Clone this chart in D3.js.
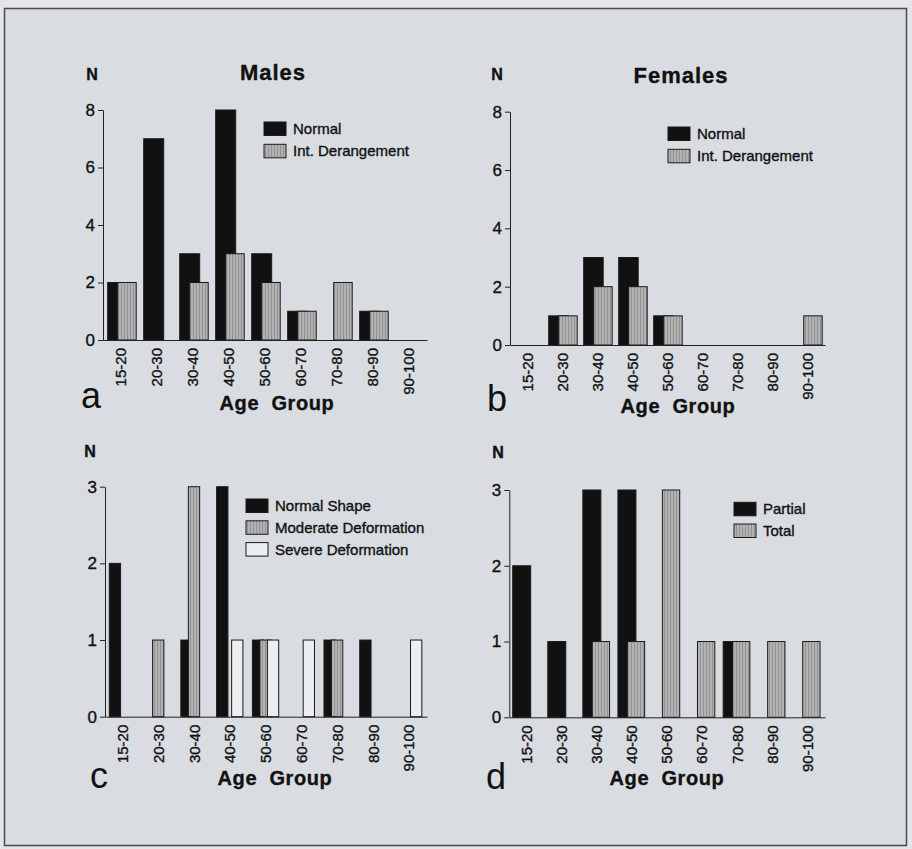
<!DOCTYPE html>
<html>
<head>
<meta charset="utf-8">
<script src="https://cdn.jsdelivr.net/npm/d3@7"></script>
<style>
  body { margin: 0; background: #e3e5e7; }
  svg { display: block; font-family: "Liberation Sans", Arial, sans-serif; }
  svg text { stroke: #111; stroke-width: 0.35px; }
</style>
</head>
<body>
<svg id="chart" width="912" height="849"></svg>
<script>
// age groups on every x axis
var ageGroups = ['15-20', '20-30', '30-40', '40-50', '50-60', '60-70', '70-80', '80-90', '90-100'];

// panel a - males
var malesNormal     = [2, 7, 3, 8, 3, 1, 0, 1, 0];
var malesDerangement = [2, 0, 2, 3, 2, 1, 2, 1, 0];
// panel b - females
var femalesNormal     = [0, 1, 3, 3, 1, 0, 0, 0, 0];
var femalesDerangement = [0, 1, 2, 2, 1, 0, 0, 0, 1];
// panel c - shape
var shapeNormal   = [2, 0, 1, 3, 1, 0, 1, 1, 0];
var shapeModerate = [0, 1, 3, 0, 1, 0, 1, 0, 0];
var shapeSevere   = [0, 0, 0, 1, 1, 1, 0, 0, 1];
// panel d - partial / total
var partialCounts = [2, 1, 3, 3, 0, 0, 1, 0, 0];
var totalCounts   = [0, 0, 1, 1, 3, 1, 1, 1, 1];

var ticksTop = [0, 2, 4, 6, 8];
var ticksBottom = [0, 1, 2, 3];

var svg = d3.select('#chart');
var defs = svg.append('defs');
var pat = defs.append('pattern')
  .attr('id', 'stripe').attr('patternUnits', 'userSpaceOnUse')
  .attr('width', 3).attr('height', 4);
pat.append('rect').attr('width', 3).attr('height', 4).attr('fill', '#b2b2b2');
pat.append('rect').attr('x', 1).attr('width', 1).attr('height', 4).attr('fill', '#939393');

// page frame
svg.append('rect')
  .attr('x', 4.5).attr('y', 8.5).attr('width', 902).attr('height', 837)
  .attr('fill', '#d9dde1').attr('stroke', '#4a4a4a').attr('stroke-width', 1.5);

var fills = { black: '#111', gray: 'url(#stripe)', white: '#eceef0' };

var panels = [
  { letter: 'a', title: 'Males', ax: 103, ax1: 427, y0: 340, yTop: 110, yMax: 8, ticks: ticksTop,
    lead: 4.7, offset: 10, widths: [20, 18.5], titlePos: [273, 80], nPos: [92, 80],
    letterPos: [81, 408], agePos: [277, 410], leg: [264, 122, 22.3],
    series: [
      { name: 'Normal', values: malesNormal, fill: 'black' },
      { name: 'Int. Derangement', values: malesDerangement, fill: 'gray' }
    ] },
  { letter: 'b', title: 'Females', ax: 510, ax1: 825, y0: 345, yTop: 111.7, yMax: 8, ticks: ticksTop,
    lead: 3.7, offset: 10, widths: [19.5, 18.5], titlePos: [681, 83], nPos: [497, 80],
    letterPos: [487, 411], agePos: [678, 413], leg: [668, 127, 22.3],
    series: [
      { name: 'Normal', values: femalesNormal, fill: 'black' },
      { name: 'Int. Derangement', values: femalesDerangement, fill: 'gray' }
    ] },
  { letter: 'c', title: null, ax: 105, ax1: 427, y0: 716.7, yTop: 486.7, yMax: 3, ticks: ticksBottom,
    lead: 4.3, offset: 7.5, widths: [11.3, 11.3, 11.3], nPos: [90, 457],
    letterPos: [90, 788], agePos: [275, 785], leg: [246, 499, 21.8],
    series: [
      { name: 'Normal Shape', values: shapeNormal, fill: 'black' },
      { name: 'Moderate Deformation', values: shapeModerate, fill: 'gray' },
      { name: 'Severe Deformation', values: shapeSevere, fill: 'white' }
    ] },
  { letter: 'd', title: null, ax: 509.3, ax1: 825, y0: 717.3, yTop: 490, yMax: 3, ticks: ticksBottom,
    lead: 3.4, offset: 9.4, widths: [18, 17.3], nPos: [498, 458],
    letterPos: [486, 789], agePos: [667, 785], leg: [734, 502.3, 21.7],
    series: [
      { name: 'Partial', values: partialCounts, fill: 'black' },
      { name: 'Total', values: totalCounts, fill: 'gray' }
    ] }
];

panels.forEach(function(p) {
  var g = svg.append('g');
  var x = d3.scaleBand().domain(ageGroups).range([p.ax, p.ax1]);
  var y = d3.scaleLinear().domain([0, p.yMax]).range([p.y0, p.yTop]);

  // bars, later series drawn on top
  p.series.forEach(function(s, i) {
    g.selectAll(null)
      .data(s.values.map(function(v, k) { return { v: v, c: ageGroups[k] }; }).filter(function(d) { return d.v > 0; }))
      .enter().append('rect')
      .attr('x', function(d) { return x(d.c) + p.lead + i * p.offset; })
      .attr('y', function(d) { return y(d.v); })
      .attr('width', p.widths[i])
      .attr('height', function(d) { return y(0) - y(d.v); })
      .attr('fill', fills[s.fill])
      .attr('stroke', '#1a1a1a').attr('stroke-width', 1);
  });

  // y axis
  var yAxis = g.append('g')
    .attr('transform', 'translate(' + p.ax + ',0)')
    .call(d3.axisLeft(y).tickValues(p.ticks).tickSize(5).tickSizeOuter(0).tickPadding(3).tickFormat(d3.format('d')));
  yAxis.attr('font-size', null).attr('font-family', null);
  yAxis.select('.domain').attr('stroke', '#222');
  yAxis.selectAll('.tick line').attr('stroke', '#222');
  yAxis.selectAll('text').style('font-size', '17px').attr('fill', '#111');

  // x axis line and rotated labels
  var xAxis = g.append('g')
    .attr('transform', 'translate(0,' + p.y0 + ')')
    .call(d3.axisBottom(x).tickSize(0).tickPadding(0));
  xAxis.attr('font-size', null).attr('font-family', null);
  xAxis.select('.domain').attr('stroke', '#222');
  xAxis.selectAll('text')
    .style('font-size', '15px').attr('fill', '#111')
    .attr('text-anchor', 'end')
    .attr('dy', '0.35em')
    .attr('transform', 'translate(0,8) rotate(-90)');

  // titles and labels
  if (p.title) {
    g.append('text').attr('x', p.titlePos[0]).attr('y', p.titlePos[1])
      .attr('text-anchor', 'middle').style('font-size', '22px').attr('font-weight', 'bold')
      .attr('letter-spacing', 1).attr('fill', '#111').text(p.title);
  }
  g.append('text').attr('x', p.nPos[0]).attr('y', p.nPos[1])
    .attr('text-anchor', 'middle').style('font-size', '16px').attr('font-weight', 'bold')
    .attr('fill', '#111').text('N');
  g.append('text').attr('x', p.letterPos[0]).attr('y', p.letterPos[1])
    .style('font-size', '36px').style('stroke-width', '0').attr('fill', '#111').text(p.letter);
  g.append('text').attr('x', p.agePos[0]).attr('y', p.agePos[1])
    .attr('text-anchor', 'middle').style('font-size', '20px').attr('font-weight', 'bold')
    .attr('letter-spacing', 0.6).attr('fill', '#111').text('Age\u00a0\u00a0Group');

  // legend
  var leg = g.append('g');
  p.series.forEach(function(s, i) {
    var ly = p.leg[1] + i * p.leg[2];
    leg.append('rect').attr('x', p.leg[0]).attr('y', ly).attr('width', 22).attr('height', 13.5)
      .attr('fill', fills[s.fill]).attr('stroke', '#1a1a1a').attr('stroke-width', 1);
    leg.append('text').attr('x', p.leg[0] + 29).attr('y', ly + 12)
      .style('font-size', '15px').attr('fill', '#111').text(s.name);
  });
});
</script>
</body>
</html>
